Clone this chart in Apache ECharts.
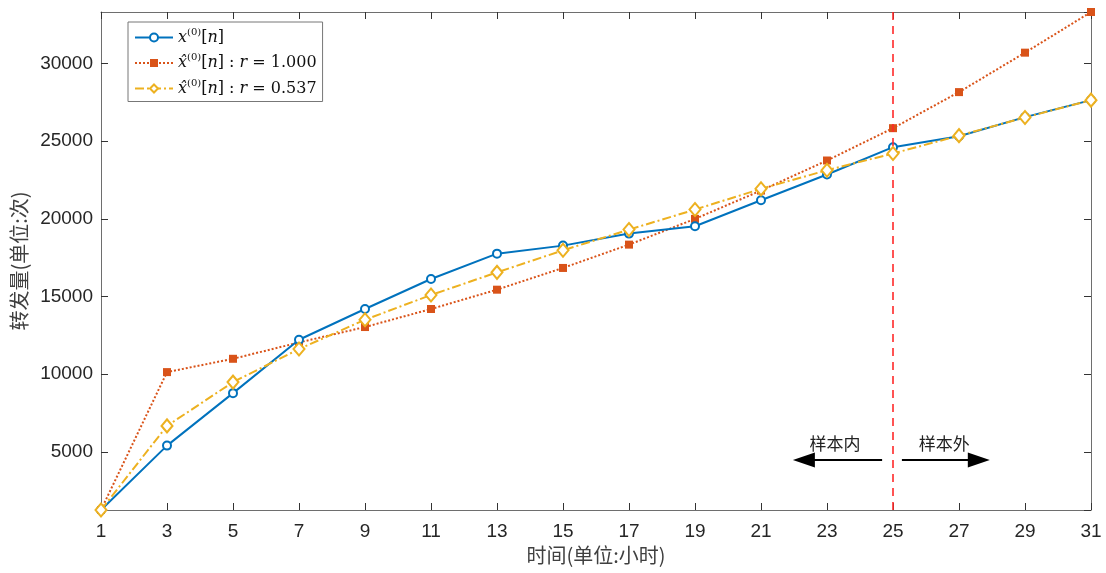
<!DOCTYPE html>
<html>
<head>
<meta charset="utf-8">
<script src="https://cdn.jsdelivr.net/npm/echarts@6/dist/echarts.min.js"></script>
<style>html,body{margin:0;padding:0;background:#fff;}#c{width:1106px;height:573px;}</style>
</head>
<body>
<div id="c"></div>
<script>
var categories = ['1','3','5','7','9','11','13','15','17','19','21','23','25','27','29','31'];
var actual = [1264,5407,8783,12217,14195,16128,17758,18274,19047,19517,21192,22848,24607,25316,26540,27635];
var fitR1 = [1264,10136,10993,12043,13036,14195,15439,16837,18338,19994,21817,23750,25831,28151,30689,33305];
var fitR2 = [1264,6676,9492,11618,13506,15097,16553,17971,19305,20593,21927,23125,24201,25350,26520,27635];
var yTicks = [5000,10000,15000,20000,25000,30000];
var splitX = 25;
var arrowY = 4486;
var leftArrow = [24.67, 22.3];
var rightArrow = [25.27, 27.6];

var yMin = 1264, yMax = 33305;
var chart = echarts.init(document.getElementById('c'));
var axisCol = '#6e6e6e';
var labelFont = {fontFamily:'Liberation Sans', fontSize:19, color:'#262626'};
var serif = 'DejaVu Serif';
var rich = {
  i:{fontFamily:serif, fontStyle:'italic', fontSize:16, color:'#111'},
  t:{fontFamily:serif, fontSize:16, color:'#111'},
  s:{fontFamily:serif, fontSize:10, color:'#111', padding:[0,0,11,0]}
};
var legendText = {
  'x0':'{i|x}{s|(0)}{t|[}{i|n}{t|]}',
  'r1':'{i|x\u0302}{s|(0)}{t|[}{i|n}{t|] : }{i|r}{t| = 1.000}',
  'r2':'{i|x\u0302}{s|(0)}{t|[}{i|n}{t|] : }{i|r}{t| = 0.537}'
};
function yFmt(v){ return yTicks.indexOf(v) >= 0 ? String(v) : ''; }

chart.setOption({
  animation:false,
  grid:{left:101, right:15, top:12, bottom:63, containLabel:false},
  legend:{
    left:128, top:22, orient:'vertical', itemWidth:38, itemHeight:10, itemGap:7,
    padding:[5,6,5,6], borderColor:'#777', borderWidth:1, backgroundColor:'#fff',
    data:['x0','r1','r2'],
    formatter:function(n){ return legendText[n]; },
    textStyle:{rich:rich}
  },
  xAxis:[
    {type:'category', data:categories, boundaryGap:false,
     name:'时间(单位:小时)', nameLocation:'middle', nameGap:33,
     nameTextStyle:{fontFamily:'Noto Sans CJK SC', fontSize:20, color:'#404040'},
     axisLine:{lineStyle:{color:axisCol, width:1}},
     axisTick:{inside:true, length:7, lineStyle:{color:'#333'}},
     axisLabel:Object.assign({margin:12, interval:0}, labelFont),
     splitLine:{show:false}},
    {type:'category', data:categories, boundaryGap:false, position:'top',
     axisLine:{lineStyle:{color:axisCol, width:1}},
     axisTick:{inside:true, length:7, lineStyle:{color:'#333'}},
     axisLabel:{show:false}, splitLine:{show:false}},
    {type:'value', min:1, max:31, show:false, splitLine:{show:false}}
  ],
  yAxis:[
    {type:'value', min:yMin, max:yMax, splitNumber:5,
     name:'转发量(单位:次)', nameLocation:'middle', nameGap:70,
     nameTextStyle:{fontFamily:'Noto Sans CJK SC', fontSize:20, color:'#404040'},
     axisLine:{show:true, lineStyle:{color:axisCol, width:1}},
     axisTick:{show:true, inside:true, length:7, lineStyle:{color:'#333'}},
     axisLabel:Object.assign({margin:8, formatter:yFmt, showMinLabel:false, showMaxLabel:false}, labelFont),
     splitLine:{show:false}},
    {type:'value', min:yMin, max:yMax, splitNumber:5, position:'right',
     axisLine:{show:true, lineStyle:{color:axisCol, width:1}},
     axisTick:{show:true, inside:true, length:7, lineStyle:{color:'#333'}},
     axisLabel:{show:false}, splitLine:{show:false}}
  ],
  series:[
    {name:'x0', type:'line', data:actual, symbol:'emptyCircle', symbolSize:8, z:4,
     lineStyle:{color:'#0072BD', width:2}, itemStyle:{color:'#0072BD', borderWidth:2}},
    {name:'r1', type:'line', data:fitR1, symbol:'rect', symbolSize:8, z:3,
     lineStyle:{color:'#D95319', width:2, type:[2,2]}, itemStyle:{color:'#D95319'}},
    {name:'r2', type:'line', data:fitR2, symbol:'emptyDiamond', symbolSize:[11,13], z:5,
     lineStyle:{color:'#EDB120', width:2, type:[9,3,2,3]}, itemStyle:{color:'#EDB120', borderWidth:2}},
    {name:'annot', type:'line', xAxisIndex:2, yAxisIndex:0, data:[], silent:true, z:6,
     markLine:{silent:true, animation:false,
       data:[
         [{xAxis:splitX, yAxis:yMin, symbol:'none', lineStyle:{color:'rgba(255,40,40,0.8)', width:2, type:[8,6]}, label:{show:false}},
          {xAxis:splitX, yAxis:yMax, symbol:'none'}],
         [{coord:[leftArrow[0], arrowY], symbol:'none', lineStyle:{color:'#000', width:2, type:'solid'},
           label:{show:true, formatter:'样本内', position:'insideMiddleTop', distance:8, padding:[0,16,0,0], fontFamily:'Noto Sans CJK SC', fontSize:17, color:'#222'}},
          {coord:[leftArrow[1], arrowY], symbol:'triangle', symbolSize:[15,22]}],
         [{coord:[rightArrow[0], arrowY], symbol:'none', lineStyle:{color:'#000', width:2, type:'solid'},
           label:{show:true, formatter:'样本外', position:'insideMiddleTop', distance:8, padding:[0,0,0,8], fontFamily:'Noto Sans CJK SC', fontSize:17, color:'#222'}},
          {coord:[rightArrow[1], arrowY], symbol:'triangle', symbolSize:[15,22]}]
       ]}}
  ]
});
</script>
</body>
</html>
